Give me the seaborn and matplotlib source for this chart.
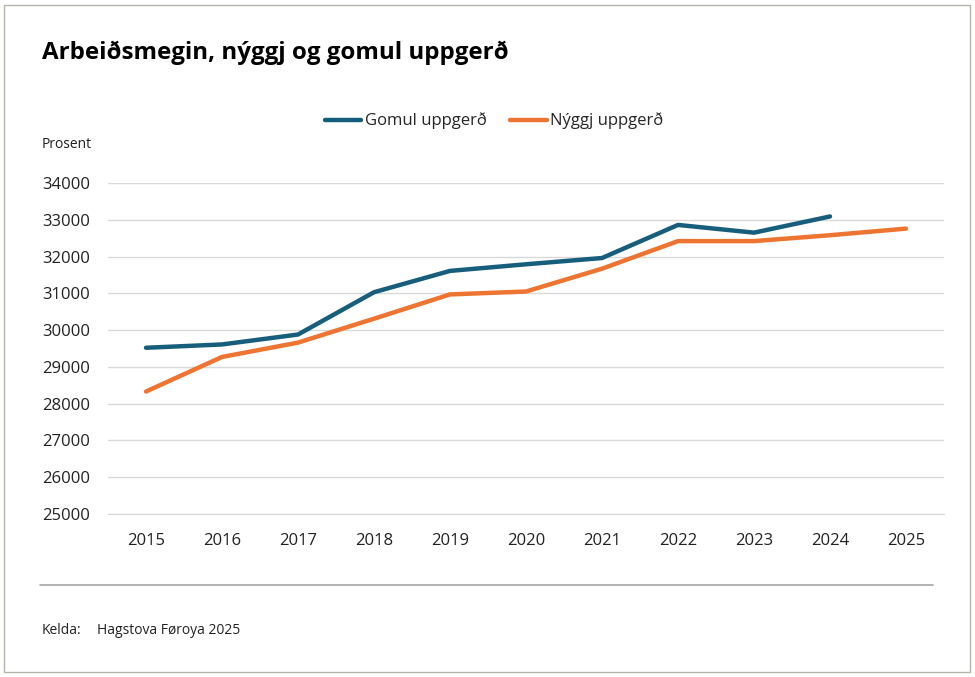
import numpy as np
import pandas as pd
import matplotlib
matplotlib.use("Agg")
import matplotlib.pyplot as plt
import seaborn as sns
from matplotlib.lines import Line2D
from matplotlib.patches import Rectangle

# data
years = [2015, 2016, 2017, 2018, 2019, 2020, 2021, 2022, 2023, 2024, 2025]
gomul = [29520, 29610, 29880, 31030, 31610, 31790, 31960, 32860, 32650, 33090, np.nan]
nyggj = [28330, 29270, 29660, 30310, 30970, 31050, 31670, 32420, 32420, 32580, 32760]
series_names = ["Gomul uppgerð", "Nýggj uppgerð"]
colors = ["#175e7c", "#ee7431"]

df = pd.DataFrame({"year": years * 2,
                   "value": gomul + nyggj,
                   "series": [series_names[0]] * len(years) + [series_names[1]] * len(years)})

sns.set_style("white")
plt.rcParams['font.family'] = ['Open Sans', 'DejaVu Sans']

fig = plt.figure(figsize=(9.75, 6.77), dpi=100)
ax = fig.add_axes([108 / 975, 1 - 514 / 677, (944 - 108) / 975, (514 - 183) / 677])

sns.lineplot(data=df, x="year", y="value", hue="series", palette=colors,
             linewidth=3.2, ax=ax, legend=False, solid_capstyle="round")

ax.set_xlim(years[0] - 0.5, years[-1] + 0.5)
ax.set_ylim(25000, 34000)
ax.set_yticks(range(25000, 34001, 1000))
ax.set_xticks(years)
ax.set_xticks(np.arange(years[0] - 0.5, years[-1] + 1, 1), minor=True)
ax.tick_params(axis="x", which="major", length=0, pad=14, labelsize=12, colors="#222222")
ax.tick_params(axis="x", which="minor", length=6, width=1, color="#d9d9d9")
ax.tick_params(axis="y", length=0, pad=13, labelsize=12, colors="#222222")
ax.grid(axis="y", color="#d9d9d9", linewidth=1)
ax.set_axisbelow(True)
for s in ["top", "right", "left"]:
    ax.spines[s].set_visible(False)
ax.spines["bottom"].set_color("#d9d9d9")
ax.set_xlabel("")
ax.set_ylabel("")

# legend
handles = [Line2D([0], [0], color=c, lw=3.2, solid_capstyle="round") for c in colors]
fig.legend(handles, series_names, loc="center", bbox_to_anchor=(494 / 975, 1 - 121 / 677),
           ncol=2, frameon=False, fontsize=12, handlelength=2.2, handletextpad=0.2,
           columnspacing=1.4)

fig.text(42 / 975, 1 - 53 / 677, "Arbeiðsmegin, nýggj og gomul uppgerð",
         fontsize=17.4, fontweight="bold", va="center", ha="left", color="#000000")
fig.text(42 / 975, 1 - 145 / 677, "Prosent", fontsize=10, va="center", ha="left", color="#222222")
fig.text(42 / 975, 1 - 631 / 677, "Kelda:", fontsize=10, va="center", ha="left", color="#222222")
fig.text(97 / 975, 1 - 631 / 677, "Hagstova Føroya 2025", fontsize=10, va="center", ha="left",
         color="#222222")

# separator line and outer frame
fig.add_artist(Line2D([40 / 975, 933 / 975], [1 - 585 / 677, 1 - 585 / 677],
                      color="#a6a6a6", lw=1.2, transform=fig.transFigure))
fig.add_artist(Rectangle((4 / 975, 5 / 677), 966 / 975, 667 / 677, fill=False,
                         edgecolor="#b4b4a8", lw=1, transform=fig.transFigure))

fig.savefig("out.png", dpi=100)
